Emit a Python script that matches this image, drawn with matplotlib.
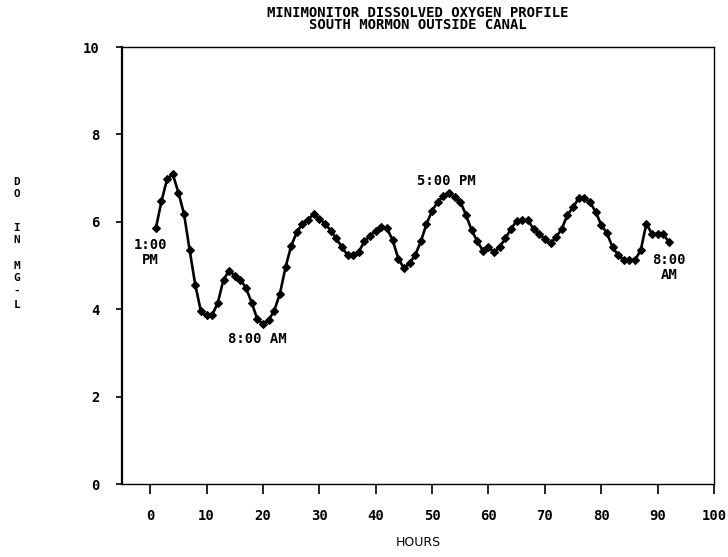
import matplotlib
matplotlib.use("Agg")
import matplotlib.pyplot as plt

# hourly dissolved oxygen readings, mg/L
hours = list(range(1, 93))
do_mgl = [
    5.85, 6.47, 6.98, 7.09, 6.67, 6.18, 5.35, 4.55, 3.95, 3.86,
    3.87, 4.15, 4.68, 4.88, 4.77, 4.68, 4.48, 4.15, 3.77, 3.66,
    3.75, 3.97, 4.35, 4.96, 5.45, 5.76, 5.96, 6.05, 6.18, 6.06,
    5.96, 5.80, 5.62, 5.42, 5.24, 5.24, 5.32, 5.55, 5.68, 5.80,
    5.89, 5.85, 5.58, 5.16, 4.94, 5.05, 5.24, 5.55, 5.95, 6.25,
    6.46, 6.59, 6.67, 6.56, 6.46, 6.16, 5.81, 5.56, 5.34, 5.42,
    5.30, 5.43, 5.62, 5.84, 6.02, 6.04, 6.04, 5.83, 5.72, 5.61,
    5.51, 5.65, 5.84, 6.16, 6.33, 6.54, 6.54, 6.45, 6.23, 5.93,
    5.74, 5.42, 5.24, 5.13, 5.13, 5.13, 5.35, 5.96, 5.72, 5.72,
    5.72, 5.53,
]

# time-of-day notes along the trace
note_text = ["1:00\nPM", "8:00 AM", "5:00 PM", "8:00\nAM"]
note_x = [0, 19, 52.5, 92]
note_y = [5.3, 3.32, 6.93, 4.95]

xticks = list(range(0, 101, 10))
yticks = [0, 2, 4, 6, 8, 10]

mono = dict(family="DejaVu Sans Mono", weight="bold")

fig = plt.figure(figsize=(7.28, 5.57), dpi=100)
ax = fig.add_axes([0.1676, 0.131, 0.8132, 0.7846])

ax.plot(hours, do_mgl, color="black", lw=1.9, marker="D", ms=4.4,
        mfc="black", mec="black", mew=0.8)

for txt, x, y in zip(note_text, note_x, note_y):
    ax.text(x, y, txt, ha="center", va="center", fontsize=10,
            linespacing=1.05, **mono)

ax.set_xlim(-5, 100)
ax.set_ylim(0, 10)
ax.set_xticks(xticks)
ax.set_yticks(yticks)
ax.set_xticklabels([str(t) for t in xticks], fontsize=10, **mono)
ax.set_yticklabels([str(t) for t in yticks], fontsize=10, **mono)
ax.tick_params(axis="x", direction="out", length=7, width=1.2, pad=11)
ax.tick_params(axis="y", direction="out", length=4, width=1.2, pad=12)

for side in ["top", "right", "bottom"]:
    ax.spines[side].set_linewidth(1.0)
ax.spines["left"].set_linewidth(1.6)

ax.set_xlabel("HOURS", fontsize=9, family="DejaVu Sans", labelpad=9)

fig.text(0.574, 0.99, "MINIMONITOR DISSOLVED OXYGEN PROFILE\nSOUTH MORMON OUTSIDE CANAL",
         ha="center", va="top", fontsize=10, linespacing=0.9, **mono)

# stacked y-axis label
ylab_chars = ["D", "O", "I", "N", "M", "G", "-", "L"]
ylab_pos = [182, 194, 228, 240, 266, 278, 291, 305]
for ch, yp in zip(ylab_chars, ylab_pos):
    fig.text(17 / 728, 1 - yp / 557, ch, ha="center", va="center",
             fontsize=8, **mono)

fig.savefig("out.png", dpi=100)
